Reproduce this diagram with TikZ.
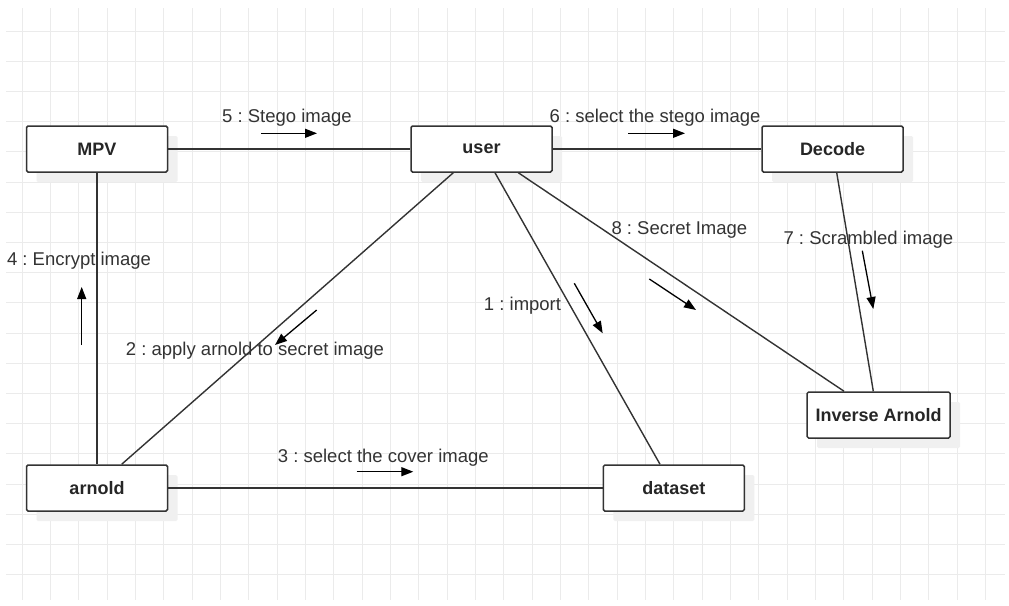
\documentclass[tikz,border=0pt]{standalone}
\usepackage{fontspec}
\setmainfont{Liberation Sans}
\usetikzlibrary{arrows.meta,shadows}
\frenchspacing
\begin{document}
\begin{tikzpicture}[x=1pt,y=-1pt,
  gridline/.style={draw=black!8, line width=1pt},
  box/.style={draw=black!80, line width=1.5pt, rounded corners=1.5pt, fill=white,
    minimum width=141pt, minimum height=46pt, inner sep=0pt,
    font=\fontsize{18}{20}\selectfont\bfseries, text=black!85,
    drop shadow={shadow xshift=10pt, shadow yshift=-10pt, opacity=1, fill=black!6}},
  link/.style={draw=black!80, line width=1.4pt},
  msg/.style={draw=black, line width=1.3pt, -{Triangle[length=12pt,width=9pt]}},
  lbl/.style={font=\fontsize{18.5}{20}\selectfont, text=black!80, inner sep=0pt, anchor=base}
]
\useasboundingbox[fill=white] (0,0) rectangle (1009,605);
% grid
\foreach \i in {0,...,34} \draw[gridline] ({22.3+28.33*\i},8) -- ({22.3+28.33*\i},600);
\foreach \j in {0,...,18} \draw[gridline] (6,{31+30.2*\j}) -- (1005,{31+30.2*\j});

% objects
\node[box] (mpv) at (97,149) {MPV};
\node[box] (user) at (481.5,149) {user};
\node[box] (decode) at (832.5,149) {Decode};
\node[box, minimum width=143pt] (inv) at (878.6,415) {Inverse Arnold};
\node[box] (arnold) at (97,488) {arnold};
\node[box] (dataset) at (673.8,488) {dataset};

% links
\draw[link] (mpv.east) -- (user.west);
\draw[link] (user.east) -- (decode.west);
\draw[link] (mpv.south) -- (arnold.north);
\draw[link] (arnold.east) -- (dataset.west);
\draw[link] ([xshift=-28.2pt]user.south) -- ([xshift=24.7pt]arnold.north);
\draw[link] ([xshift=13.5pt]user.south) -- ([xshift=-13.8pt]dataset.north);
\draw[link] ([xshift=36.8pt]user.south) -- ([xshift=-34.6pt]inv.north);
\draw[link] ([xshift=4.2pt]decode.south) -- ([xshift=-5.3pt]inv.north);

% message arrows
\draw[msg] (261,133.3) -- (317,133.3);
\draw[msg] (628,133.3) -- (685,133.3);
\draw[msg] (81.7,345) -- (81.7,287);
\draw[msg] (316.7,310) -- (275,345);
\draw[msg] (574.3,283.3) -- (602.7,333.3);
\draw[msg] (649.3,279) -- (696,310);
\draw[msg] (862.3,250.7) -- (873.3,309);
\draw[msg] (356.7,471.7) -- (413.3,471.7);

% labels
\node[lbl] (l5) at (287,122.8) {5 : Stego image};
\node[lbl] (l6) at (655,122.3) {6 : select the stego image};
\node[lbl] (l4) at (79,265.5) {4 : Encrypt image};
\node[lbl] (l2) at (255,355.5) {2 : apply arnold to secret image};
\node[lbl] (l1) at (522.5,310) {1 : import};
\node[lbl] (l8) at (679.4,234) {8 : Secret Image};
\node[lbl] (l7) at (868.4,244) {7 : Scrambled image};
\node[lbl] (l3) at (383.3,462) {3 : select the cover image};
\end{tikzpicture}
\end{document}
